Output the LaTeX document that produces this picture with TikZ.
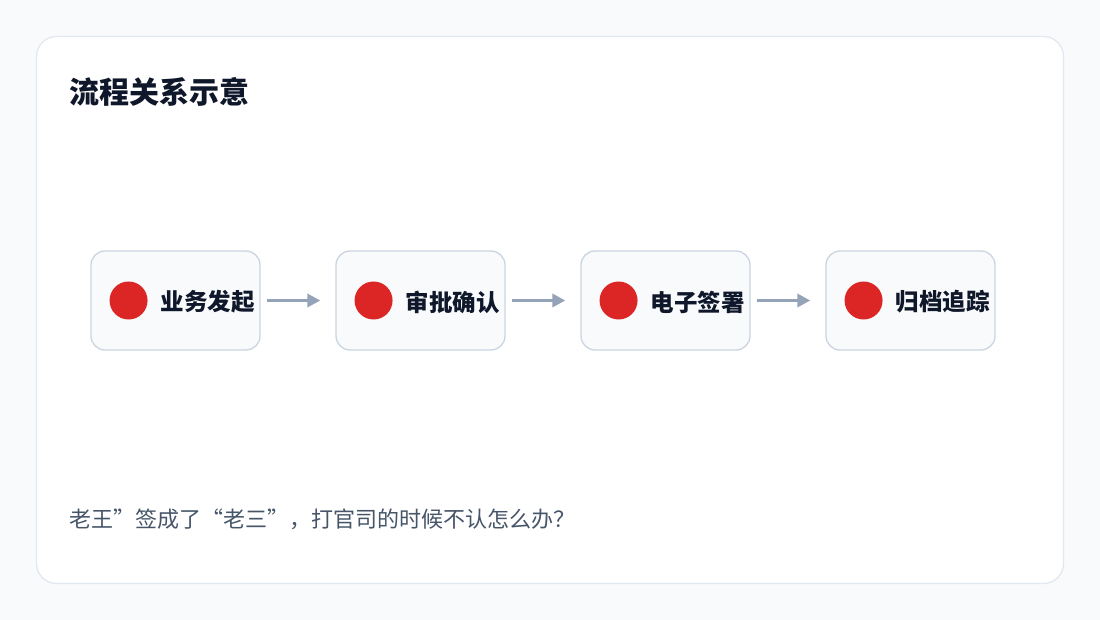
\documentclass[tikz,border=0pt]{standalone}
\usepackage{fontspec}
\setmainfont{Noto Sans CJK SC}
\usetikzlibrary{arrows.meta,positioning}
\definecolor{pagebg}{HTML}{F8FAFC}
\definecolor{cardline}{HTML}{E2E8F0}
\definecolor{boxline}{HTML}{CBD5E1}
\definecolor{boxfill}{HTML}{F8FAFC}
\definecolor{inkdark}{HTML}{0F172A}
\definecolor{inkgray}{HTML}{475569}
\definecolor{dotred}{HTML}{DC2626}
\definecolor{flowgray}{HTML}{94A3B8}

\tikzset{
  stepbox/.style={draw=boxline, fill=boxfill, line width=1.3pt, rounded corners=14pt,
    minimum width=169pt, minimum height=99pt, inner sep=0pt},
  dot/.style={circle, fill=dotred, minimum size=38pt, inner sep=0pt},
  steptext/.style={font=\fontsize{23.5}{27}\selectfont\bfseries, text=inkdark, inner sep=0pt},
  flow/.style={-{Triangle[length=13pt,width=13pt]}, line width=3.2pt, draw=flowgray,
    shorten <=6pt, shorten >=15pt}
}

\begin{document}
\begin{tikzpicture}[x=1pt,y=-1pt]
    % Page background and card
    \fill[pagebg] (0,0) rectangle (1100,620);
    \draw[cardline, fill=white, line width=1.3pt, rounded corners=20pt] (36.5,36.5) rectangle (1063.5,583.5);

    % Title
    \node[anchor=west, inner sep=0pt, text=inkdark, font=\fontsize{30}{35}\selectfont\bfseries] (title) at (69,92) {流程关系示意};

    % Process steps
    \node[stepbox] (s1) at (175.5,300.5) {};
    \node[stepbox] (s2) at (420.5,300.5) {};
    \node[stepbox] (s3) at (665.5,300.5) {};
    \node[stepbox] (s4) at (910.5,300.5) {};

    % Red markers and labels
    \node[dot, right=19pt of s1.west] (d1) {};
    \node[dot, right=19pt of s2.west] (d2) {};
    \node[dot, right=19pt of s3.west] (d3) {};
    \node[dot, right=19pt of s4.west] (d4) {};
    \node[steptext, right=13pt of d1, yshift=-1.5pt] (t1) {业务发起};
    \node[steptext, right=13pt of d2, yshift=-1.5pt] (t2) {审批确认};
    \node[steptext, right=13pt of d3, yshift=-1.5pt] (t3) {电子签署};
    \node[steptext, right=13pt of d4, yshift=-1.5pt] (t4) {归档追踪};

    % Arrows between steps
    \draw[flow] (s1) -- (s2);
    \draw[flow] (s2) -- (s3);
    \draw[flow] (s3) -- (s4);

    % Question below
    \node[anchor=west, inner sep=0pt, text=inkgray, font=\fontsize{22}{26}\selectfont] (question) at (69,519) {老王”签成了“老三”，打官司的时候不认怎么办？};
\end{tikzpicture}
\end{document}
